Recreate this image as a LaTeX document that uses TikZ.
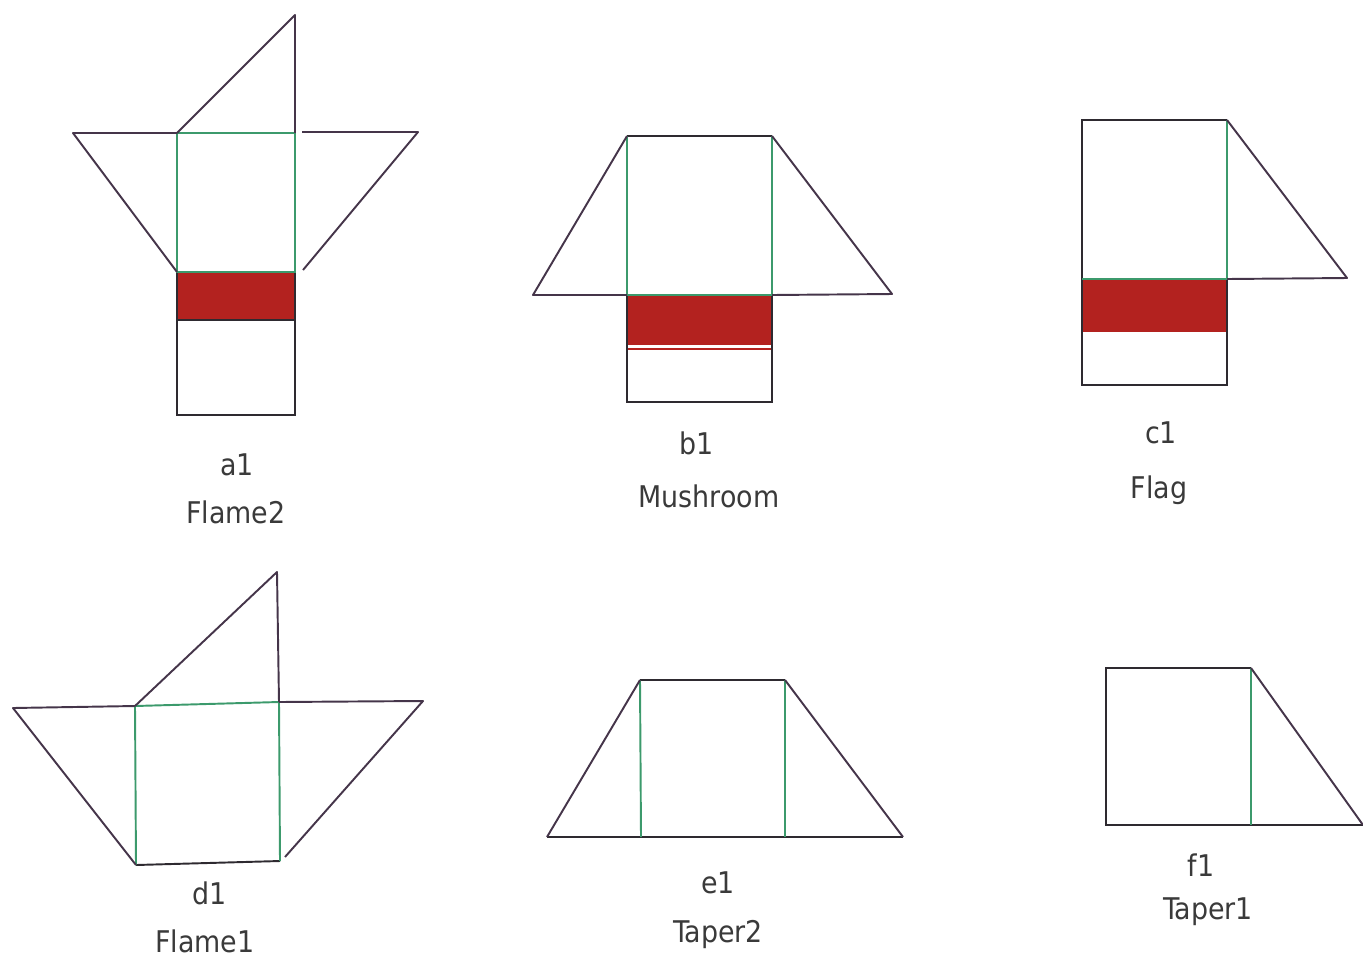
\documentclass[tikz,border=0pt]{standalone}
\usepackage{fontspec}
\setmainfont{DejaVu Sans Condensed}
\definecolor{ink}{HTML}{2E2A30}
\definecolor{wingc}{HTML}{45354A}
\definecolor{foldc}{HTML}{3C9A6C}
\definecolor{bandc}{HTML}{B3221F}
\definecolor{textc}{HTML}{3A3A3A}
\tikzset{
  edge/.style={draw=ink,line width=1.1pt},
  wing/.style={draw=wingc,line width=1.1pt,line join=round},
  fold/.style={draw=foldc,line width=1.1pt},
  band/.style={fill=bandc},
  lbl/.style={text=textc,inner sep=0pt,font=\fontsize{17}{20}\selectfont}
}
\begin{document}
\begin{tikzpicture}[x=0.02cm,y=-0.02cm]
  \useasboundingbox (0,0) rectangle (1363,958);

  % a1 Flame2
  \coordinate (aTL) at (177,133);
  \coordinate (aTR) at (295,133);
  \coordinate (aML) at (177,272);
  \coordinate (aMR) at (295,272);
  \coordinate (aRL) at (177,320);
  \coordinate (aRR) at (295,320);
  \coordinate (aBL) at (177,415);
  \coordinate (aBR) at (295,415);
  \coordinate (aP) at (295,15);
  \coordinate (aW) at (73,133);
  \coordinate (aE1) at (302,132);
  \coordinate (aE2) at (418,132);
  \coordinate (aE3) at (303,270);

  \fill[band] (aML) rectangle (aRR);
  \draw[edge] (aML) -- (aBL) -- (aBR) -- (aMR);
  \draw[edge] (aRL) -- (aRR);
  \draw[fold] (aTL) rectangle (aMR);
  \draw[wing] (aTL) -- (aP) -- (aTR);
  \draw[wing] (aTL) -- (aW) -- (aML);
  \draw[wing] (aE1) -- (aE2) -- (aE3);

  \node[lbl] (a1) at (237,465) {a1};
  \node[lbl] (a1n) at (236,512) {Flame2};

  % b1 Mushroom
  \coordinate (bTL) at (627,136);
  \coordinate (bTR) at (772,136);
  \coordinate (bML) at (627,295);
  \coordinate (bMR) at (772,295);
  \coordinate (bRR) at (772,345);
  \coordinate (bSL) at (627,349);
  \coordinate (bSR) at (772,349);
  \coordinate (bBL) at (627,402);
  \coordinate (bBR) at (772,402);
  \coordinate (bW) at (533,295);
  \coordinate (bE) at (892,294);

  \fill[band] (bML) rectangle (bRR);
  \draw[bandc,line width=1.1pt] (bSL) -- (bSR);
  \draw[edge] (bML) -- (bBL) -- (bBR) -- (bMR);
  \draw[edge] (bTL) -- (bTR);
  \draw[fold] (bTL) -- (bML) -- (bMR) -- (bTR);
  \draw[wing] (bTL) -- (bW) -- (bML);
  \draw[wing] (bTR) -- (bE) -- (bMR);

  \node[lbl] (b1) at (697,443) {b1};
  \node[lbl] (b1n) at (709,496) {Mushroom};

  % c1 Flag
  \coordinate (cTL) at (1082,120);
  \coordinate (cTR) at (1227,120);
  \coordinate (cML) at (1082,279);
  \coordinate (cMR) at (1227,279);
  \coordinate (cRR) at (1227,332);
  \coordinate (cBL) at (1082,385);
  \coordinate (cBR) at (1227,385);
  \coordinate (cE) at (1347,278);

  \fill[band] (cML) rectangle (cRR);
  \draw[edge] (cMR) -- (cBR) -- (cBL) -- (cTL) -- (cTR);
  \draw[fold] (cTR) -- (cMR) -- (cML);
  \draw[wing] (cTR) -- (cE) -- (cMR);

  \node[lbl] (c1) at (1161,433) {c1};
  \node[lbl] (c1n) at (1159,490) {Flag};

  % d1 Flame1
  \coordinate (dTL) at (135,706);
  \coordinate (dTR) at (279,702);
  \coordinate (dBR) at (280,861);
  \coordinate (dBL) at (136,865);
  \coordinate (dP) at (277,572);
  \coordinate (dW) at (13,708);
  \coordinate (dE1) at (423,701);
  \coordinate (dE2) at (285,857);

  \draw[edge] (dBL) -- (dBR);
  \draw[fold] (dBL) -- (dTL) -- (dTR) -- (dBR);
  \draw[wing] (dTL) -- (dP) -- (dTR);
  \draw[wing] (dTL) -- (dW) -- (dBL);
  \draw[wing] (dTR) -- (dE1) -- (dE2);

  \node[lbl] (d1) at (210,893) {d1};
  \node[lbl] (d1n) at (205,941) {Flame1};

  % e1 Taper2
  \coordinate (eTL) at (640,680);
  \coordinate (eTR) at (785,680);
  \coordinate (eBL) at (641,837);
  \coordinate (eBR) at (785,837);
  \coordinate (eW) at (547,837);
  \coordinate (eE) at (903,837);

  \draw[edge] (eTL) -- (eTR);
  \draw[edge] (eW) -- (eE);
  \draw[fold] (eTL) -- (eBL);
  \draw[fold] (eTR) -- (eBR);
  \draw[wing] (eTL) -- (eW);
  \draw[wing] (eTR) -- (eE);

  \node[lbl] (e1) at (718,883) {e1};
  \node[lbl] (e1n) at (718,935) {Taper2};

  % f1 Taper1
  \coordinate (fTL) at (1106,668);
  \coordinate (fTR) at (1251,668);
  \coordinate (fBL) at (1106,825);
  \coordinate (fBR) at (1251,825);
  \coordinate (fE) at (1363,825);

  \draw[edge] (fTR) -- (fTL) -- (fBL) -- (fE);
  \draw[fold] (fTR) -- (fBR);
  \draw[wing] (fTR) -- (fE);

  \node[lbl] (f1) at (1201,865) {f1};
  \node[lbl] (f1n) at (1208,912) {Taper1};
\end{tikzpicture}
\end{document}
